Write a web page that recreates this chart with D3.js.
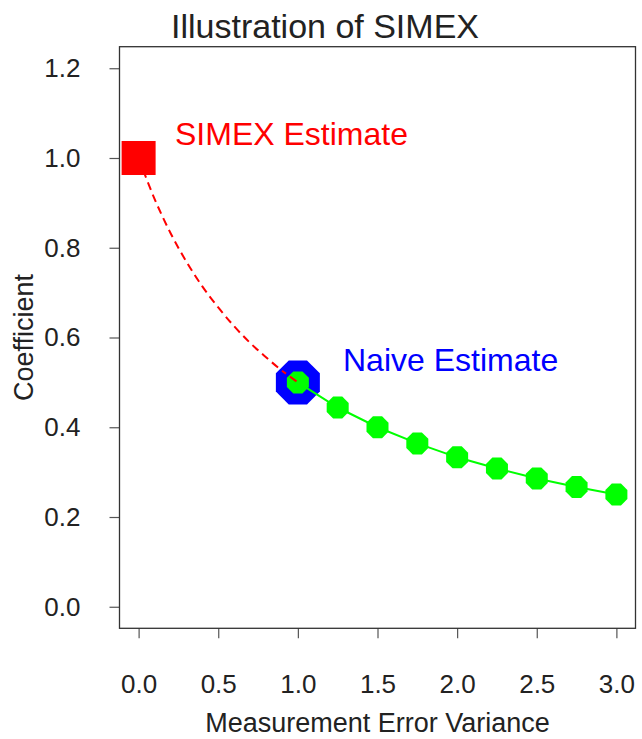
<!DOCTYPE html>
<html>
<head>
<meta charset="utf-8">
<script src="https://cdn.jsdelivr.net/npm/d3@7"></script>
<style>
  body { margin: 0; background: #fff; }
  text { font-family: "Liberation Sans", Arial, Helvetica, sans-serif; fill: #222; }
</style>
</head>
<body>
<div id="chart"></div>
<script>
// Data
var lambdas = [1.0, 1.25, 1.5, 1.75, 2.0, 2.25, 2.5, 2.75, 3.0];
var coefs   = [0.50, 0.444, 0.40, 0.364, 0.333, 0.308, 0.286, 0.267, 0.25];

// extrapolation (dashed) back to lambda = 0
var extrapX = [0.0, 0.1, 0.2, 0.3, 0.4, 0.5, 0.6, 0.7, 0.8, 0.9, 1.0];
var extrapY = [1.0, 0.909, 0.833, 0.769, 0.714, 0.667, 0.625, 0.588, 0.556, 0.526, 0.50];

var simexPoint = { x: 0.0, y: 1.0 };
var naivePoint = { x: 1.0, y: 0.5 };

var xTicks = [0, 0.5, 1, 1.5, 2, 2.5, 3];
var yTicks = [0, 0.2, 0.4, 0.6, 0.8, 1.0, 1.2];

var width = 642, height = 739;

var svg = d3.select("#chart")
  .append("svg")
  .attr("width", width)
  .attr("height", height);

var x = d3.scaleLinear().domain([-0.12, 3.12]).range([119.5, 635.5]);
var y = d3.scaleLinear().domain([-0.048, 1.248]).range([628.3, 46.7]);

// axes
var yAxis = d3.axisLeft(y).tickValues(yTicks).tickFormat(d3.format(".1f"))
  .tickSize(10).tickPadding(29);
var xAxis = d3.axisBottom(x).tickValues(xTicks).tickFormat(d3.format(".1f"))
  .tickSize(10).tickPadding(36);

var gy = svg.append("g")
  .attr("transform", "translate(" + x.range()[0] + ",0)")
  .call(yAxis);
var gx = svg.append("g")
  .attr("transform", "translate(0," + y.range()[0] + ")")
  .call(xAxis);

[gx, gy].forEach(function(g) {
  g.select(".domain").remove();
  g.selectAll(".tick line").attr("stroke", "#555").attr("stroke-width", 1.2);
  g.selectAll(".tick text").style("font-size", "26px").attr("fill", "#222");
});

// box
svg.append("rect")
  .attr("x", x.range()[0])
  .attr("y", y.range()[1])
  .attr("width", x.range()[1] - x.range()[0])
  .attr("height", y.range()[0] - y.range()[1])
  .attr("fill", "none")
  .attr("stroke", "#333")
  .attr("stroke-width", 1.3);

// octagon path, flat sides, given half-width across flats
var octagon = function(r) {
  var R = r / Math.cos(Math.PI / 8);
  var pts = d3.range(8).map(function(k) {
    var a = Math.PI / 8 + k * Math.PI / 4;
    return [R * Math.cos(a), R * Math.sin(a)];
  });
  return "M" + pts.join("L") + "Z";
};

// dashed extrapolation curve
var extrap = extrapX.map(function(d, i) { return [d, extrapY[i]]; });
svg.append("path")
  .datum(extrap)
  .attr("fill", "none")
  .attr("stroke", "#ff0000")
  .attr("stroke-width", 2)
  .attr("stroke-dasharray", "8,5")
  .attr("d", d3.line()
    .x(function(d) { return x(d[0]); })
    .y(function(d) { return y(d[1]); })
    .curve(d3.curveMonotoneX));

// SIMEX estimate square
svg.append("rect")
  .attr("x", x(simexPoint.x) - 17)
  .attr("y", y(simexPoint.y) - 17)
  .attr("width", 34)
  .attr("height", 34)
  .attr("fill", "#ff0000");

// naive estimate big blue octagon
svg.append("path")
  .attr("d", octagon(22))
  .attr("transform", "translate(" + x(naivePoint.x) + "," + y(naivePoint.y) + ")")
  .attr("fill", "#0000ff");

// simulated green line + points
var sim = lambdas.map(function(d, i) { return [d, coefs[i]]; });
svg.append("path")
  .datum(sim)
  .attr("fill", "none")
  .attr("stroke", "#00ff00")
  .attr("stroke-width", 2)
  .attr("d", d3.line()
    .x(function(d) { return x(d[0]); })
    .y(function(d) { return y(d[1]); }));

svg.selectAll(".sim")
  .data(sim)
  .enter()
  .append("path")
  .attr("class", "sim")
  .attr("d", octagon(11))
  .attr("transform", function(d) { return "translate(" + x(d[0]) + "," + y(d[1]) + ")"; })
  .attr("fill", "#00ff00");

// small bit of dashed line visible over the first green point
svg.append("path")
  .datum(extrap.slice(-2))
  .attr("fill", "none")
  .attr("stroke", "#ff0000")
  .attr("stroke-width", 2)
  .attr("stroke-dasharray", "8,5")
  .attr("stroke-dashoffset", 3)
  .attr("d", d3.line()
    .x(function(d) { return x(d[0]); })
    .y(function(d) { return y(d[1]); }));

// labels
svg.append("text")
  .attr("x", 175).attr("y", 145)
  .style("font-size", "32px")
  .style("fill", "#ff0000")
  .text("SIMEX Estimate");

svg.append("text")
  .attr("x", 343).attr("y", 371)
  .style("font-size", "32px")
  .style("fill", "#0000ff")
  .text("Naive Estimate");

// title and axis titles
svg.append("text")
  .attr("x", 325).attr("y", 38)
  .attr("text-anchor", "middle")
  .style("font-size", "34px")
  .text("Illustration of SIMEX");

svg.append("text")
  .attr("x", (x.range()[0] + x.range()[1]) / 2).attr("y", 732)
  .attr("text-anchor", "middle")
  .style("font-size", "27px")
  .text("Measurement Error Variance");

svg.append("text")
  .attr("transform", "translate(33," + ((y.range()[0] + y.range()[1]) / 2) + ") rotate(-90)")
  .attr("text-anchor", "middle")
  .style("font-size", "27px")
  .text("Coefficient");
</script>
</body>
</html>
